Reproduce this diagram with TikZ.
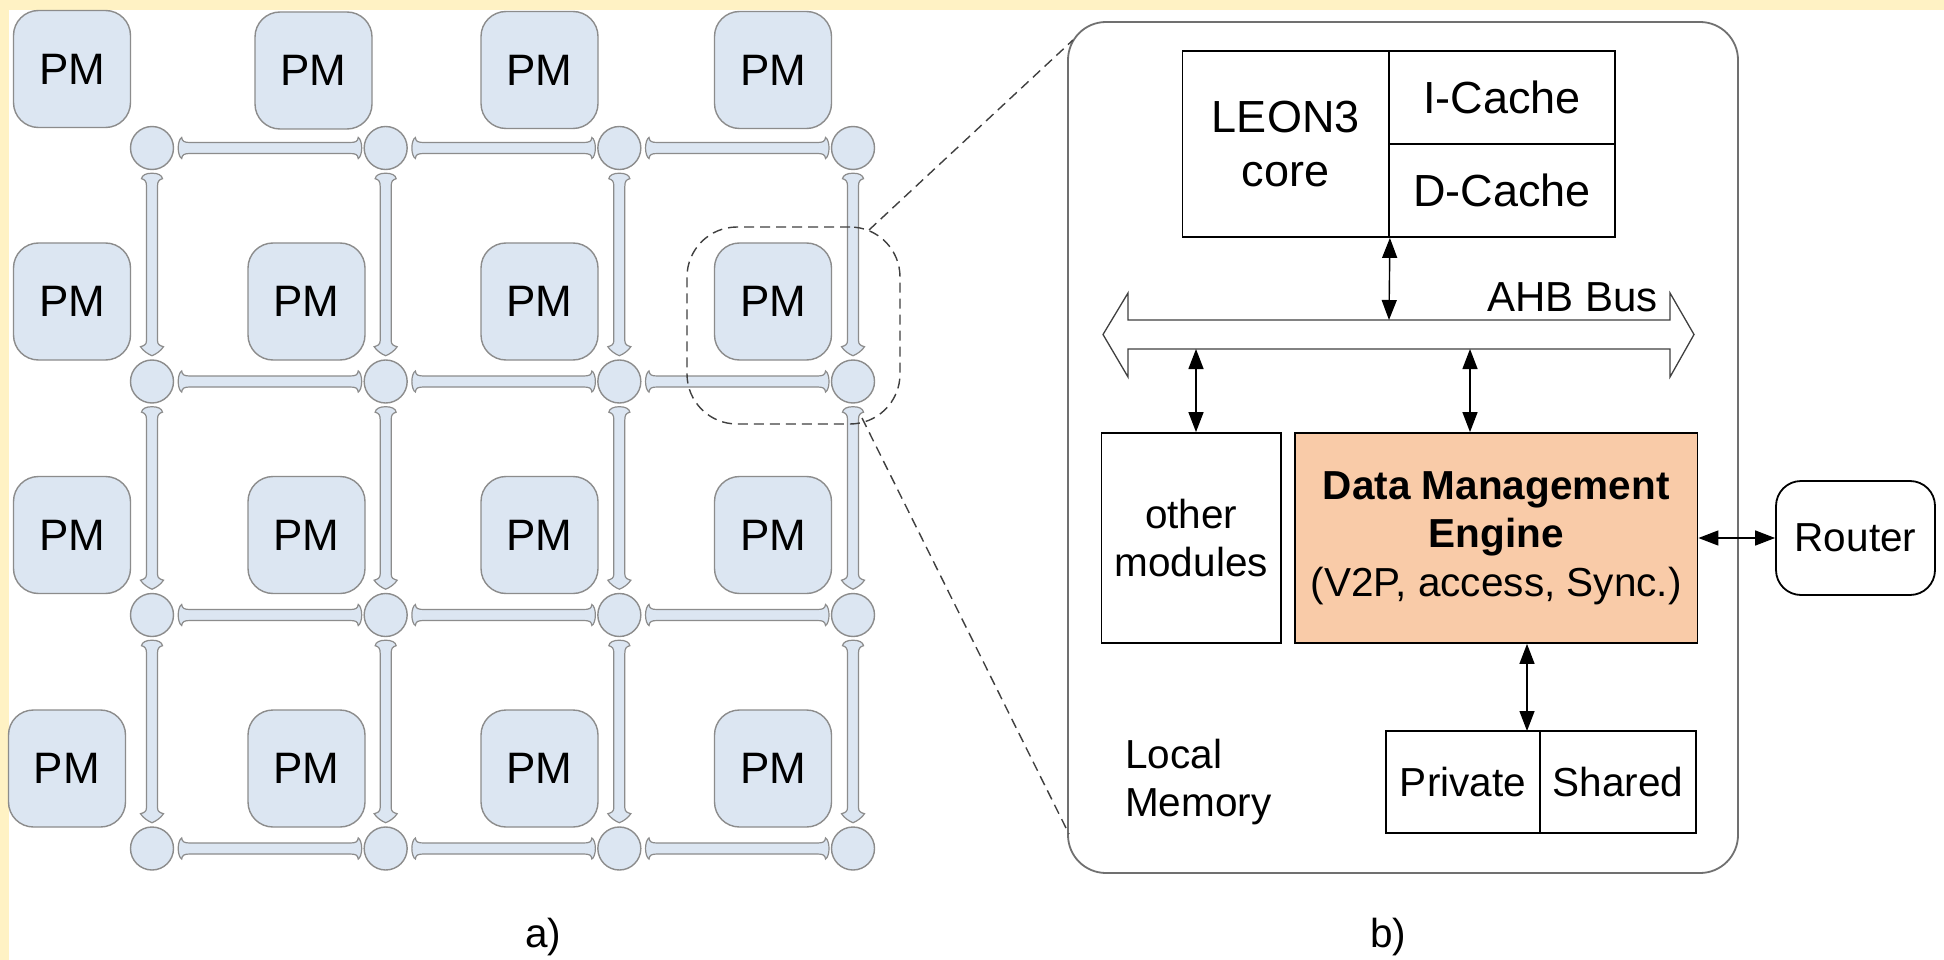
\documentclass[tikz,border=0pt]{standalone}
\usepackage{fontspec}
\setmainfont{Liberation Sans}
\usetikzlibrary{arrows.meta,calc}
\definecolor{bgyellow}{HTML}{FFF2C4}
\definecolor{meshfill}{HTML}{DCE6F2}
\definecolor{meshgray}{HTML}{8C8C8C}
\definecolor{dmefill}{HTML}{F9CBA8}
\definecolor{panelgray}{HTML}{707070}
\definecolor{dashgray}{HTML}{404040}
\newcommand\fPM{\fontsize{44pt}{52pt}\selectfont}
\newcommand\fBig{\fontsize{45pt}{54pt}\selectfont}
\newcommand\fMid{\fontsize{40.5pt}{48.5pt}\selectfont}
\newcommand\fBus{\fontsize{42pt}{50pt}\selectfont}
\tikzset{
  pmbox/.style={draw=meshgray, fill=meshfill, line width=1.4pt, rounded corners=25pt,
    minimum width=117pt, minimum height=117pt, inner sep=0pt, font=\fPM},
  rnode/.style={circle, draw=meshgray, fill=meshfill, line width=1.4pt,
    minimum size=43pt, inner sep=0pt},
  linkstyle/.style={draw=meshgray, fill=meshfill, line width=1.2pt},
  panelbox/.style={draw=panelgray, line width=1.8pt, rounded corners=38pt,
    minimum width=670pt, minimum height=851pt, inner sep=0pt},
  zoombox/.style={draw=dashgray, line width=1.4pt, dash pattern=on 10pt off 6pt,
    rounded corners=50pt, minimum width=213pt, minimum height=197pt, inner sep=0pt},
  dashline/.style={draw=dashgray, line width=1.4pt, dash pattern=on 10pt off 6pt},
  blk/.style={draw=black, line width=1.8pt, inner sep=0pt, align=center},
  busline/.style={draw=black!75, line width=1.3pt, fill=white},
  biarrow/.style={line width=1.4pt, black,
    {Triangle[length=20pt,width=15pt]}-{Triangle[length=20pt,width=15pt]}},
  hlink/.pic={
    \path[linkstyle] (4,0) .. controls (4,-5) and (5.5,-9.5) .. (7.5,-10.5)
      .. controls (8,-6.5) and (10,-5.5) .. (16,-5.5) -- (175.5,-5.5)
      .. controls (181.5,-5.5) and (183.5,-6.5) .. (184,-10.5)
      .. controls (186,-9.5) and (187.5,-5) .. (187.5,0)
      .. controls (187.5,5) and (186,9.5) .. (184,10.5)
      .. controls (183.5,6.5) and (181.5,5.5) .. (175.5,5.5) -- (16,5.5)
      .. controls (10,5.5) and (8,6.5) .. (7.5,10.5)
      .. controls (5.5,9.5) and (4,5) .. (4,0) -- cycle;
  },
  vlink/.pic={
    \path[linkstyle] (0,3) .. controls (6,3) and (10,5) .. (10.5,8.5)
      .. controls (7,9.5) and (5.5,11) .. (5.5,16) -- (5.5,170.5)
      .. controls (5.5,174.5) and (8,175.5) .. (11.5,176.5)
      .. controls (9,180.5) and (4,184) .. (0,185.5)
      .. controls (-4,184) and (-9,180.5) .. (-11.5,176.5)
      .. controls (-8,175.5) and (-5.5,174.5) .. (-5.5,170.5) -- (-5.5,16)
      .. controls (-5.5,11) and (-7,9.5) .. (-10.5,8.5)
      .. controls (-10,5) and (-6,3) .. (0,3) -- cycle;
  }
}
\begin{document}
\begin{tikzpicture}[x=1pt,y=-1pt]
\useasboundingbox (0,0) rectangle (1944,960);
\fill[white] (0,0) rectangle (1944,960);
\fill[bgyellow] (0,0) rectangle (1944,10);
\fill[bgyellow] (0,0) rectangle (9,960);

% ---------- a) mesh ----------
\foreach \r/\yy in {0/148,1/381.5,2/615,3/848.5}{
  \foreach \c/\xx in {0/152,1/385.67,2/619.33,3/853}{
    \node[rnode] (r\r\c) at (\xx,\yy) {};
  }
}
\foreach \r in {0,1,2,3}{
  \foreach \c in {0,1,2}{
    \pic at (r\r\c.east) {hlink};
  }
}
\foreach \c in {0,1,2,3}{
  \foreach \r in {0,1,2}{
    \pic at (r\r\c.south) {vlink};
  }
}
% PM boxes
\node[pmbox] (pm00) at (72,69) {PM};
\node[pmbox] (pm01) at (313.5,70.5) {PM};
\node[pmbox] (pm02) at (539.5,70) {PM};
\node[pmbox] (pm03) at (773,70) {PM};
\foreach \r/\yy in {1/301.5,2/535}{
  \node[pmbox] (pm\r0) at (72,\yy) {PM};
  \node[pmbox] (pm\r1) at (306.5,\yy) {PM};
  \node[pmbox] (pm\r2) at (539.5,\yy) {PM};
  \node[pmbox] (pm\r3) at (773,\yy) {PM};
}
\node[pmbox] (pm30) at (67,768.5) {PM};
\node[pmbox] (pm31) at (306.5,768.5) {PM};
\node[pmbox] (pm32) at (539.5,768.5) {PM};
\node[pmbox] (pm33) at (773,768.5) {PM};

% zoom highlight
\node[zoombox] (zoom) at (793.5,325.5) {};
\coordinate (zt) at (869,230);
\coordinate (zb) at (862,418);

% ---------- b) tile ----------
\node[panelbox] (tile) at (1403,447.5) {};
\coordinate (tt) at (1073,40);
\coordinate (tb) at (1069,834);
\draw[dashline] (zt) -- (tt);
\draw[dashline] (zb) -- (tb);

\node[blk, minimum width=206.5pt, minimum height=186pt, font=\fBig] (leon) at (1285.75,144) {LEON3\\core};
\node[blk, minimum width=226pt, minimum height=93pt, font=\fBig] (icache) at (1502,97.5) {I-Cache};
\node[blk, minimum width=226pt, minimum height=93pt, font=\fBig] (dcache) at (1502,190.5) {D-Cache};

\draw[busline] (1103,334.5) -- (1128,293) -- (1128,320) -- (1670,320) -- (1670,293)
  -- (1694,334.5) -- (1670,377) -- (1670,349) -- (1128,349) -- (1128,377) -- cycle;
\node[anchor=base east, inner sep=0pt, font=\fBus] (ahb) at (1658,311) {AHB Bus};
\coordinate (busT) at (1389,320);
\coordinate (busB1) at (1196,349);
\coordinate (busB2) at (1470,349);

\node[blk, minimum width=179.5pt, minimum height=210pt, font=\fMid] (other) at (1191.25,538) {other\\modules};
\node[blk, fill=dmefill, minimum width=402.5pt, minimum height=210pt, font=\fMid] (dme) at (1496.25,538)
  {\textbf{Data Management}\\\textbf{Engine}\\(V2P, access, Sync.)};
\node[blk, minimum width=154pt, minimum height=102pt, font=\fMid] (private) at (1463,782) {Private};
\node[blk, minimum width=156pt, minimum height=102pt, font=\fMid] (shared) at (1618,782) {Shared};
\node[blk, rounded corners=25pt, minimum width=159pt, minimum height=114pt, font=\fMid] (router) at (1855.5,538) {Router};
\node[anchor=north west, inner sep=0pt, align=left, font=\fMid] (lmem) at (1125,738.5) {Local\\Memory};
\coordinate (pvtop) at (1527,731);

\draw[biarrow] (leon.south east) -- (busT);
\draw[biarrow] (busB1) -- (busB1 |- other.north);
\draw[biarrow] (busB2) -- (busB2 |- dme.north);
\draw[biarrow] (pvtop |- dme.south) -- (pvtop);
\draw[biarrow] (dme.east) -- (router.west);

\node[anchor=base, inner sep=0pt, font=\fMid] (la) at (543,947) {a)};
\node[anchor=base, inner sep=0pt, font=\fMid] (lb) at (1388,947) {b)};
\end{tikzpicture}
\end{document}
